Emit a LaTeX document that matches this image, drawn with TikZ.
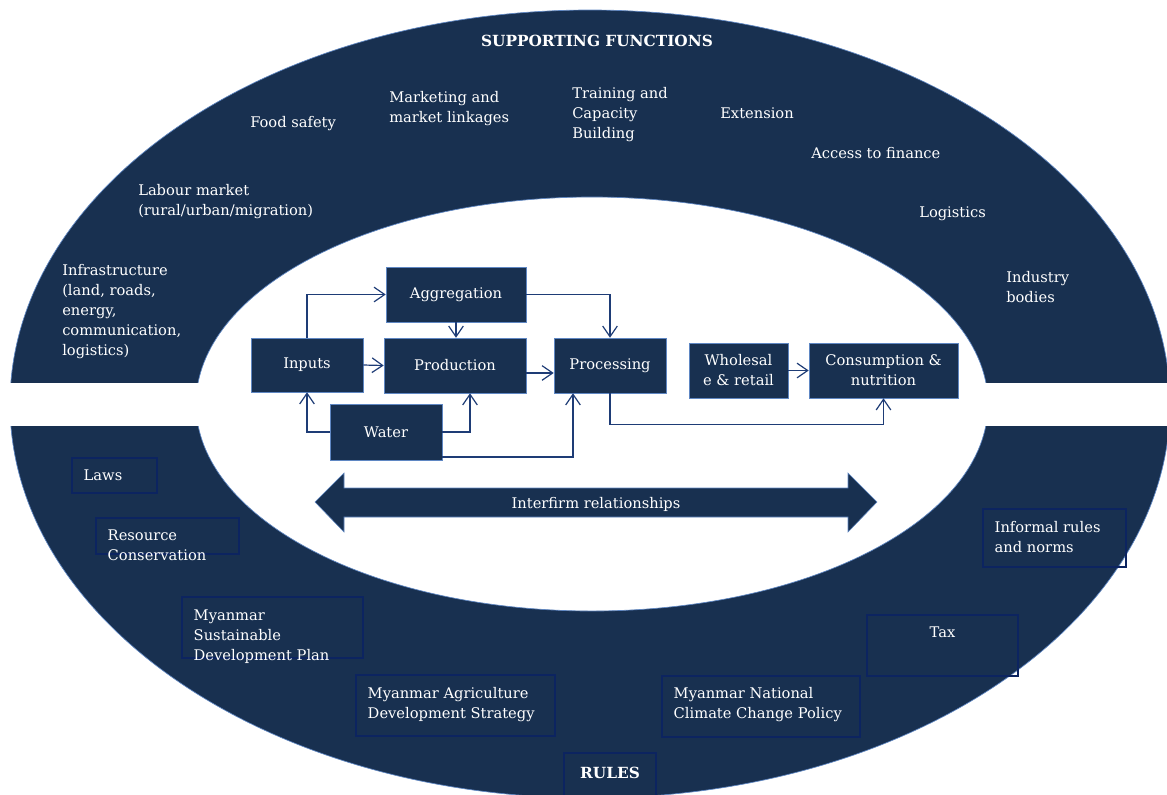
\documentclass[tikz,border=0pt]{standalone}
\usepackage{fontspec}
\setmainfont{DejaVu Serif}
\usetikzlibrary{arrows.meta}
\definecolor{navy}{RGB}{24,48,80}
\definecolor{rim}{RGB}{95,135,195}
\definecolor{linkblue}{RGB}{30,60,118}
\definecolor{rulesedge}{RGB}{12,36,96}
\newcommand{\txt}{\fontsize{11}{15}\selectfont}
\begin{document}
\begin{tikzpicture}[x=0.75pt,y=-0.75pt]
  \tikzstyle{fn}=[text=white, font=\txt, align=left, inner sep=0pt, anchor=north west]
  \tikzstyle{stage}=[fill=navy, draw=rim, line width=0.4pt, text=white, font=\txt, align=center, inner sep=2pt]
  \tikzstyle{rbox}=[draw=rulesedge, line width=0.8pt, inner sep=0pt]
  \tikzstyle{flow}=[draw=linkblue, line width=0.9pt, -{Straight Barb[length=8pt,width=11pt]}]
  \tikzstyle{ttl}=[text=white, font=\fontsize{11.5}{14}\selectfont\bfseries, inner sep=0pt]
  \useasboundingbox (0,0) rectangle (1167,794);
  % the ring, cut in two by a white band
  \fill[navy, draw=rim, line width=0.5pt, even odd rule]
    (590,404) ellipse [x radius=580, y radius=394]
    (592,404) ellipse [x radius=396, y radius=207];
  \fill[white] (0,383) rectangle (1167,426);
  % supporting functions
  \node[ttl] (supp) at (597,41) {SUPPORTING FUNCTIONS};
  \node[fn] (food) at (250,116) {Food safety};
  \node[fn] (mkt) at (389,91) {Marketing and\\market linkages};
  \node[fn] (train) at (572,87) {Training and\\Capacity\\Building};
  \node[fn] (ext) at (720,107) {Extension};
  \node[fn] (fin) at (811,147) {Access to finance};
  \node[fn] (logi) at (919,206) {Logistics};
  \node[fn] (ind) at (1006,271) {Industry\\bodies};
  \node[fn] (labour) at (138,184) {Labour market\\(rural/urban/migration)};
  \node[fn] (infra) at (62,264) {Infrastructure\\(land, roads,\\energy,\\communication,\\logistics)};
  % value chain
  \node[stage, minimum width=84pt, minimum height=40.5pt] (inputs) at (307,365) {Inputs};
  \node[stage, minimum width=105pt, minimum height=41.25pt] (aggr) at (456,294.5) {Aggregation};
  \node[stage, minimum width=106.5pt, minimum height=41.25pt] (prod) at (455,365.5) {Production};
  \node[stage, minimum width=84pt, minimum height=42pt] (water) at (386,432) {Water};
  \node[stage, minimum width=84pt, minimum height=41.25pt] (proc) at (610,365.5) {Processing};
  \node[stage, minimum width=74.25pt, minimum height=41.25pt] (whole) at (738.5,370.5) {Wholesal\\e \& retail};
  \node[stage, minimum width=111.75pt, minimum height=41.25pt] (cons) at (883.5,370.5) {Consumption \&\\nutrition};
  \draw[flow] (inputs.north) |- (aggr.west);
  \draw[flow] (inputs.east) -- (prod.west);
  \draw[flow] (aggr.south) -- (aggr.south |- prod.north);
  \draw[flow] (aggr.east) -| (proc.north);
  \draw[flow] ([yshift=-5.6pt]prod.east) -- ([yshift=-5.6pt]proc.west);
  \draw[flow] (water.west) -| (inputs.south);
  \draw[flow] (water.east) -| ([xshift=11.25pt]prod.south);
  \draw[flow] ([yshift=-18.75pt]water.east) -| ([xshift=-27.75pt]proc.south);
  \draw[flow] (proc.south) -- ++(0,31) -| (cons.south);
  \draw[flow] (whole.east) -- (cons.west);
  % interfirm relationships
  \fill[navy, draw=rim, line width=0.4pt] (315,502) -- (344,473) -- (344,488) -- (848,488)
    -- (848,473) -- (877,502) -- (848,532) -- (848,517) -- (344,517) -- (344,532) -- cycle;
  \node[text=white, font=\txt, inner sep=0pt] (interfirm) at (596,504) {Interfirm relationships};
  % rules
  \node[rbox, minimum width=63.75pt, minimum height=26.25pt] (lawsbox) at (114.5,475.5) {};
  \node[rbox, minimum width=107.25pt, minimum height=27pt] (resbox) at (167.5,536) {};
  \node[rbox, minimum width=135.75pt, minimum height=45.75pt] (msdpbox) at (272.5,627.5) {};
  \node[rbox, minimum width=149.25pt, minimum height=45.75pt] (madsbox) at (455.5,705.5) {};
  \node[rbox, minimum width=69pt, minimum height=35.25pt] (rulesbox) at (610,776.5) {};
  \node[rbox, minimum width=148.5pt, minimum height=45.75pt] (mnccpbox) at (761,706.5) {};
  \node[rbox, minimum width=113.25pt, minimum height=45.75pt] (taxbox) at (942.5,645.5) {};
  \node[rbox, minimum width=107.25pt, minimum height=43.5pt] (infbox) at (1054.5,538) {};
  \node[fn] (laws) at ([shift={(12,12)}]lawsbox.north west) {Laws};
  \node[fn] (res) at ([shift={(12,12)}]resbox.north west) {Resource\\Conservation};
  \node[fn] (msdp) at ([shift={(12,13)}]msdpbox.north west) {Myanmar\\Sustainable\\Development Plan};
  \node[fn] (mads) at ([shift={(12,13)}]madsbox.north west) {Myanmar Agriculture\\Development Strategy};
  \node[fn] (mnccp) at ([shift={(12,12)}]mnccpbox.north west) {Myanmar National\\Climate Change Policy};
  \node[fn, anchor=north] (tax) at ([shift={(0,12)}]taxbox.north) {Tax};
  \node[fn] (inf) at ([shift={(12,13)}]infbox.north west) {Informal rules\\and norms};
  \node[ttl, anchor=north] (rules) at ([shift={(0,14)}]rulesbox.north) {RULES};
\end{tikzpicture}
\end{document}
